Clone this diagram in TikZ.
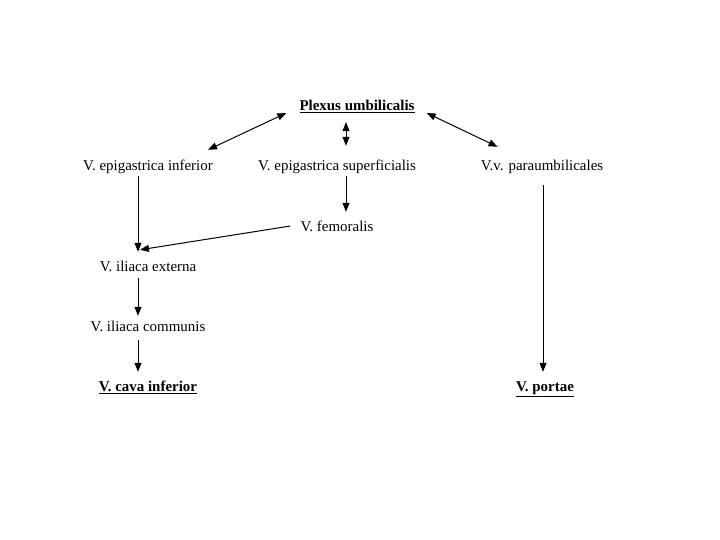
\documentclass[tikz,border=0pt]{standalone}
\usepackage{fontspec}
\setmainfont{Liberation Serif}
\usepackage{tikz}
\usetikzlibrary{positioning, arrows.meta}

\begin{document}
\begin{tikzpicture}[
  x=1bp, y=-1bp,
  font=\fontsize{15}{18}\selectfont,
  every node/.style={align=center, inner sep=0pt, text height=12bp, text depth=1bp},
  vein/.style ={},
  trunk/.style={font=\fontsize{15}{18}\selectfont\bfseries},
  arr/.style  ={-{Triangle[length=9bp, width=7bp]}, line width=1pt},
  both/.style ={{Triangle[length=9bp, width=7bp]}-{Triangle[length=9bp, width=7bp]}, line width=1pt},
]
\useasboundingbox (0,0) rectangle (720,540);

% ---- top: plexus and the three tributaries ---------------------------------
\node[trunk] (plexus) at (357,105) {\underline{Plexus umbilicalis}};
\node[vein]  (epiinf) at (148,165) {V. epigastrica inferior};
\node[vein]  (episup) at (337,165) {V. epigastrica superficialis};
\node[vein]  (parau)  at (542,165) {V.v. paraumbilicales};

% ---- left column down to the cava ------------------------------------------
\node[vein]  (femor)  at (337,226) {V. femoralis};
\node[vein]  (iliext) at (148,266) {V. iliaca externa};
\node[vein]  (ilicom) at (148,326) {V. iliaca communis};
\node[trunk] (cava)   at (148,386) {\underline{V. cava inferior}};

% ---- right column -----------------------------------------------------------
\node[trunk] (portae) at (545,386) {\underline{V. portae}};

% plexus <-> tributaries
\draw[both] ([shift={(-13,8)}]plexus.west)  -- ([shift={(-5,-8.5)}]epiinf.north east);
\draw[both] ([shift={(-11,10.5)}]plexus.south) -- ([shift={(9,-12.5)}]episup.north);
\draw[both] ([shift={(12,8)}]plexus.east)   -- ([shift={(17,-11.5)}]parau.north west);

% left side flow
\draw[arr] ([shift={(-10,4.5)}]epiinf.south) -- ([shift={(-10,-7.5)}]iliext.north);
\draw[arr] ([shift={(9,4.5)}]episup.south)   -- ([shift={(9,-7.5)}]femor.north);
\draw[arr] ([shift={(-10,0)}]femor.west)     -- ([shift={(-8,-9.5)}]iliext.north);
\draw[arr] ([shift={(-10,5.5)}]iliext.south) -- ([shift={(-10,-3.5)}]ilicom.north);
\draw[arr] ([shift={(-10,7.5)}]ilicom.south) -- ([shift={(-10,-7.5)}]cava.north);

% right side flow
\draw[arr] ([shift={(1,13.5)}]parau.south)   -- ([shift={(-2,-7.5)}]portae.north);
\end{tikzpicture}
\end{document}
